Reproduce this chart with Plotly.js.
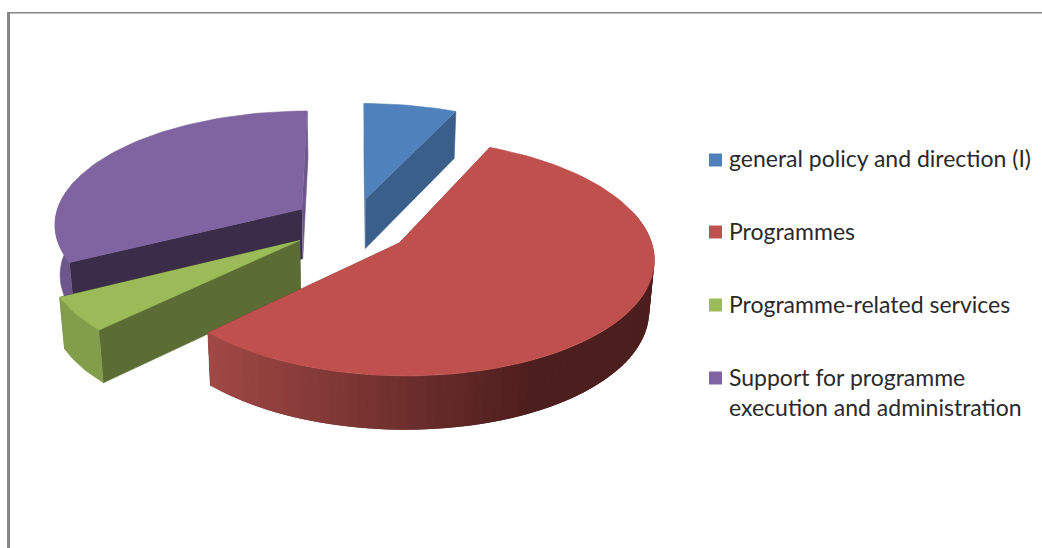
<!DOCTYPE html>
<html>
<head>
<meta charset="utf-8">
<script src="https://cdn.plot.ly/plotly-3.0.1.min.js"></script>
<style>html,body{margin:0;padding:0;background:#fff}#chart{width:1042px;height:548px}</style>
</head>
<body>
<div id="chart"></div>
<script>
// Budget shares, percent of total, clockwise from twelve o'clock
const categories = ['general policy and direction (I)', 'Programmes', 'Programme-related services', 'Support for programme<br>execution and administration'];
const shares = [6.9, 55.7, 4.8, 32.6];

const topColors = ['#4f81bd', '#c0504d', '#9bbb59', '#8064a2'];
const startFaceColors = ['#4a6f9c', '#8e3d3a', '#5b6c35', '#3b2d49'];
const endFaceColors = ['#3a5f8b', '#8e3d3a', '#5b6c35', '#6c568c'];
const rimColors = ['#3a5f8b', null, '#839e4a', '#6c568c'];
const rimRamp = [[160, 72, 68], [76, 30, 29]];

// Perspective of the pie plane and the exploded slices
const view = {cx: 353, cy: 225, sx: 248, sy: 113, k: 0.12, explode: 0.24, depth: 50, shrink: 0.983};
const sliceNudgeX = [0, -3, -4, -1];
const sliceNudgeY = [0, 2, -1, -2];
const rimFrom = 75, rimTo = 285;
const legendKeyX = 715.5, legendTextX = 727;
const legendY = [160, 232, 305, 378];
const labelY = [158, 231, 304, 392];

function project(X, Y, bottom, i) {
  const w = 1 - view.k * Y;
  let x = view.cx + view.sx * X / w;
  let y = view.cy + view.sy * Y / w;
  if (bottom) {
    x = view.cx + (x - view.cx) * view.shrink;
    y += view.depth / Math.sqrt(w);
  }
  return [x + sliceNudgeX[i], y + sliceNudgeY[i]];
}

const rad = d => d * Math.PI / 180;
const traces = [];

function face(points, color, stroke) {
  traces.push({
    x: points.map(p => p[0]), y: points.map(p => p[1]),
    type: 'scatter', mode: 'lines', fill: 'toself', fillcolor: color,
    line: {color: color, width: stroke}, hoverinfo: 'skip', showlegend: false
  });
}

// Start and end angle of every slice
let running = 0;
const slices = shares.map((v, i) => {
  const start = running * 3.6;
  running += v;
  return {i, start, end: running * 3.6};
});

function rimPoint(s, a, bottom) {
  const mid = rad((s.start + s.end) / 2);
  const ox = view.explode * Math.sin(mid), oy = -view.explode * Math.cos(mid);
  return project(ox + Math.sin(rad(a)), oy - Math.cos(rad(a)), bottom, s.i);
}
function apex(s, bottom) {
  const mid = rad((s.start + s.end) / 2);
  return project(view.explode * Math.sin(mid), -view.explode * Math.cos(mid), bottom, s.i);
}
function rampColor(x) {
  const t = Math.min(1, Math.max(0, (x - 212) / (535 - 212)));
  const c = rimRamp[0].map((v, j) => Math.round(v + (rimRamp[1][j] - v) * t));
  return 'rgb(' + c.join(',') + ')';
}
function sweep(from, to) {
  const n = Math.max(2, Math.ceil((to - from) / 2));
  const list = [];
  for (let j = 0; j <= n; j++) list.push(from + (to - from) * j / n);
  return list;
}

// Far slices first so nearer ones paint over them
[0, 3, 2, 1].forEach(idx => {
  const s = slices[idx];

  // Cut faces along both radii
  [[s.start, startFaceColors[idx]], [s.end, endFaceColors[idx]]].forEach(([a, color]) => {
    face([apex(s, false), rimPoint(s, a, false), rimPoint(s, a, true), apex(s, true)], color, 0.6);
  });

  // Outer wall, only the part that faces the viewer
  const from = Math.max(s.start, rimFrom), to = Math.min(s.end, rimTo);
  if (to > from) {
    const arc = sweep(from, to);
    if (rimColors[idx]) {
      const upper = arc.map(a => rimPoint(s, a, false));
      const lower = arc.map(a => rimPoint(s, a, true)).reverse();
      face(upper.concat(lower), rimColors[idx], 0.6);
    } else {
      // Each band runs under the next one, which leaves no seams in the shading
      for (let j = 0; j < arc.length - 1; j++) {
        const far = arc[Math.min(j + 2, arc.length - 1)];
        const a = rimPoint(s, arc[j], false), b = rimPoint(s, far, false);
        const c = rimPoint(s, far, true), d = rimPoint(s, arc[j], true);
        const ma = rimPoint(s, arc[j + 1], false);
        face([a, ma, b, c, d], rampColor((a[0] + ma[0]) / 2), 0);
      }
    }
  }

  // Top surface
  face([apex(s, false)].concat(sweep(s.start, s.end).map(a => rimPoint(s, a, false))), topColors[idx], 0.6);
});

// Legend keys
traces.push({
  x: categories.map(() => legendKeyX), y: legendY,
  type: 'scatter', mode: 'markers',
  marker: {symbol: 'square', size: 13, color: topColors, line: {width: 0}},
  hoverinfo: 'skip', showlegend: false
});

const layout = {
  width: 1042, height: 548,
  margin: {l: 0, r: 0, t: 0, b: 0},
  paper_bgcolor: '#fff', plot_bgcolor: '#fff',
  showlegend: false,
  xaxis: {range: [0, 1042], visible: false, fixedrange: true},
  yaxis: {range: [548, 0], visible: false, fixedrange: true},
  font: {family: 'Lato, sans-serif'},
  shapes: [
    {type: 'rect', xref: 'x', yref: 'y', x0: 7, x1: 10, y0: 12, y1: 548, fillcolor: '#868686', line: {width: 0}},
    {type: 'rect', xref: 'x', yref: 'y', x0: 7, x1: 1042, y0: 12, y1: 13.5, fillcolor: '#868686', line: {width: 0}}
  ],
  annotations: categories.map((c, i) => ({
    x: legendTextX, y: labelY[i], xref: 'x', yref: 'y',
    text: c, showarrow: false, xanchor: 'left', yanchor: 'middle', align: 'left',
    font: {family: 'Lato, sans-serif', size: 23, color: '#2a2a2a'}
  }))
};

Plotly.newPlot('chart', traces, layout, {displayModeBar: false, staticPlot: true});
</script>
</body>
</html>
